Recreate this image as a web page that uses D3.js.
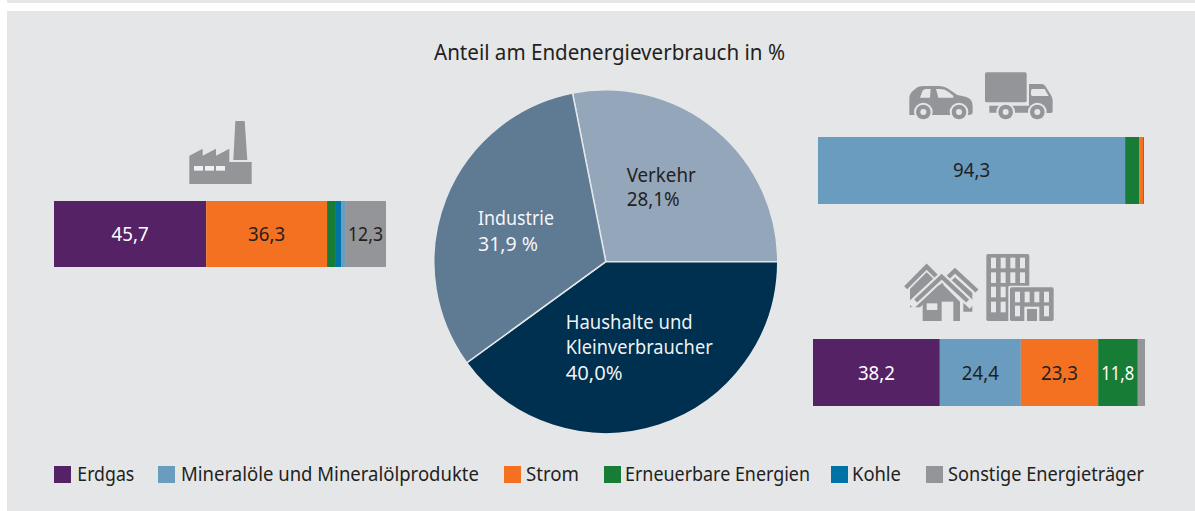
<!DOCTYPE html>
<html><head><meta charset="utf-8">
<script src="https://cdn.jsdelivr.net/npm/d3@7/dist/d3.min.js"></script>
<style>html,body{margin:0;padding:0;background:#fff}svg{display:block}text{font-family:"Noto Sans",sans-serif;fill:#231f20;font-size:20.5px}</style>
</head><body><svg id="c" width="1195" height="511"></svg>
<script>
const title = "Anteil am Endenergieverbrauch in %";
const carriers = ["Erdgas","Mineralöle und Mineralölprodukte","Strom","Erneuerbare Energien","Kohle","Sonstige Energieträger"];
const carrierColors = ["#552265","#6a9cc0","#f47121","#177c36","#0073a6","#949598"];
const pieSectors = ["Verkehr","Haushalte und Kleinverbraucher","Industrie"];
const pieValues = [28.1,40.0,31.9];
const pieColors = ["#93a6ba","#00304f","#5f7a93"];
const pieLabels = [["Verkehr","28,1%"],["Haushalte und","Kleinverbraucher","40,0%"],["Industrie","31,9 %"]];
const industryOrder = ["Erdgas","Strom","Erneuerbare Energien","Kohle","Mineralöle und Mineralölprodukte","Sonstige Energieträger"];
const industryValues = [45.7,36.3,2.4,1.8,1.2,12.3];
const transportOrder = ["Mineralöle und Mineralölprodukte","Erneuerbare Energien","Strom","Erdgas"];
const transportValues = [94.3,4.3,1.2,0.2];
const householdOrder = ["Erdgas","Mineralöle und Mineralölprodukte","Strom","Erneuerbare Energien","Kohle","Sonstige Energieträger"];
const householdValues = [38.2,24.4,23.3,11.8,0.2,2.1];

const PANEL="#e5e6e8", ICON="#949598";
const svg=d3.select("#c");
svg.append("rect").attr("x",7).attr("y",0).attr("width",1188).attr("height",3).attr("fill",PANEL);
svg.append("rect").attr("x",7).attr("y",11).attr("width",1188).attr("height",500).attr("fill",PANEL);

function txt(s,x,y,w,fill,anchor){
  const t=svg.append("text").attr("x",x).attr("y",y).text(s);
  if(/^[0-9]/.test(s))t.style("font-size","19.5px");
  if(fill)t.style("fill",fill);
  if(anchor)t.attr("text-anchor",anchor);
  if(w)t.attr("textLength",w).attr("lengthAdjust","spacingAndGlyphs");
  return t;
}
txt(title,434,60,351).style("font-size","21.5px");

// pie
const pieGen=d3.pie().sort(null).startAngle(-11.16*Math.PI/180).endAngle(2*Math.PI-11.16*Math.PI/180)(pieValues);
const arc=d3.arc().innerRadius(0).outerRadius(172);
const pg=svg.append("g").attr("transform","translate(605.8,261.7)");
pg.selectAll("path").data(pieGen).join("path").attr("d",arc).attr("fill",(d,i)=>pieColors[i]).attr("stroke",PANEL).attr("stroke-width",1.5);
const labelPos=[[626.7,[181.5,206]],[565.7,[329,354,380]],[478,[225,250.5]]];
const labelWidths=[[69,53],[127,147,57],[76,60]];
const labelFill=["#231f20","#fff","#fff"];
pieLabels.forEach((ls,i)=>ls.forEach((s,j)=>txt(s,labelPos[i][0],labelPos[i][1][j],labelWidths[i][j],labelFill[i]).style("fill-opacity",i?0.95:1)));

// bars
const fmt=v=>d3.format(".1f")(v).replace(".",",");
const whiteLabels=new Set(["Erdgas","Erneuerbare Energien"]);
function bar(order,values,x0,x1,y0,y1,base){
  const x=d3.scaleLinear().domain([0,100]).range([x0,x1]);
  let acc=0;
  order.forEach((name,i)=>{
    const v=values[i],a=acc;acc+=v;
    svg.append("rect").attr("x",x(a)).attr("y",y0).attr("width",x(acc)-x(a)).attr("height",y1-y0)
      .attr("fill",carrierColors[carriers.indexOf(name)]);
  });
  acc=0;
  order.forEach((name,i)=>{
    const v=values[i],a=acc;acc+=v;
    if(v>=10) txt(fmt(v),(x(a)+x(acc))/2,base,v<12.5?(v<12?33:35):37,whiteLabels.has(name)?"#fff":"#231f20","middle");
  });
}
bar(industryOrder,industryValues,54,387,201,267,241);
bar(transportOrder,transportValues,818,1143.7,137,204,177);
bar(householdOrder,householdValues,813,1145,339,406,380);

// legend
const swatchX=[54,158,504,604,831,926], legX=[77.3,181,526,625,852,948], legW=[57,298,53,185,49,196];
carriers.forEach((c,i)=>{
  svg.append("rect").attr("x",swatchX[i]).attr("y",466).attr("width",17).attr("height",17).attr("fill",carrierColors[i]);
  txt(c,legX[i],481,legW[i]);
});

// icons (drawn at 3x in their own local frames)
const factory=svg.append("g").attr("transform","translate(180,115) scale(0.3333)").attr("fill",ICON);
factory.append("path").attr("d","M166 18H194L202 135H160Z");
factory.append("path").attr("d","M28 122L68 101V122L108 101V122L148 101V141H215V207H28Z");
factory.selectAll("rect").data([42,75,108]).join("rect").attr("x",d=>d).attr("y",153).attr("width",27).attr("height",14).attr("fill","#f0f0f2");

const veh=svg.append("g").attr("transform","translate(900,65) scale(0.3333)").attr("fill",ICON);
veh.append("path").attr("d","M28 150V100Q28 85 42 75L52 67Q60 63 75 63H115Q135 63 150 75L172 90Q205 95 212 104Q218 110 218 122V142Q218 150 205 150H32Q28 150 28 150Z");
veh.append("path").attr("d","M60 98L66 82Q69 72 80 72H92L90 98Z M108 72H122Q135 72 145 80L160 92V98H115Z").attr("fill",PANEL);
veh.append("rect").attr("x",255).attr("y",22).attr("width",125).attr("height",90).attr("rx",5);
veh.append("path").attr("d","M387 57H425Q432 57 436 63L454 92Q458 100 458 106V138Q458 144 452 144H387Z");
veh.append("path").attr("d","M268 122H387V143H268Z");
veh.append("path").attr("d","M398 72H434L446 93H398Q393 93 393 88V77Q393 72 398 72Z").attr("fill",PANEL);
[70,177,317,412].forEach(cx=>{
  veh.append("circle").attr("cx",cx).attr("cy",141).attr("r",28).attr("fill",PANEL);
  veh.append("circle").attr("cx",cx).attr("cy",141).attr("r",22);
  veh.append("circle").attr("cx",cx).attr("cy",141).attr("r",9).attr("fill",PANEL);
});

const hs=svg.append("g").attr("transform","translate(900,250) scale(0.3333)").attr("fill",ICON);
const chev=(d,w,c)=>hs.append("path").attr("d",d).attr("fill","none").attr("stroke",c||ICON).attr("stroke-width",w||13);
hs.append("path").attr("d","M30 117L80 67L125 110L60 172H30Z");
hs.append("path").attr("d","M165 82L217 128V185H190V140L140 105Z");
chev("M17 113L80 50L125 95");
chev("M125 100L165 62L231 123");
chev("M32 167L125 80L218 167",26,PANEL);
chev("M47 153L125 80L203 153",13);
hs.append("path").attr("d","M125 100L180 155V213H68V155Z");
hs.append("rect").attr("x",125).attr("y",155).attr("width",35).attr("height",58).attr("fill",PANEL);
hs.append("rect").attr("x",80).attr("y",160).attr("width",32).attr("height",20).attr("fill",PANEL);
hs.append("rect").attr("x",259).attr("y",12).attr("width",129).attr("height",201).attr("rx",5);
[23,67,110,155].forEach(y=>[273,302,331,360].forEach(x=>hs.append("rect").attr("x",x).attr("y",y).attr("width",15).attr("height",32).attr("fill",PANEL)));
hs.append("rect").attr("x",325).attr("y",107).attr("width",141).attr("height",111).attr("rx",5).attr("fill",PANEL);
hs.append("rect").attr("x",330).attr("y",112).attr("width",131).attr("height",101).attr("rx",5);
[345,374,403,432].forEach(x=>hs.append("rect").attr("x",x).attr("y",125).attr("width",15).attr("height",32).attr("fill",PANEL));
[345,432].forEach(x=>hs.append("rect").attr("x",x).attr("y",167).attr("width",15).attr("height",32).attr("fill",PANEL));
hs.append("rect").attr("x",373).attr("y",170).attr("width",45).attr("height",43).attr("fill",PANEL);
hs.append("rect").attr("x",381).attr("y",177).attr("width",30).attr("height",36);
</script></body></html>
